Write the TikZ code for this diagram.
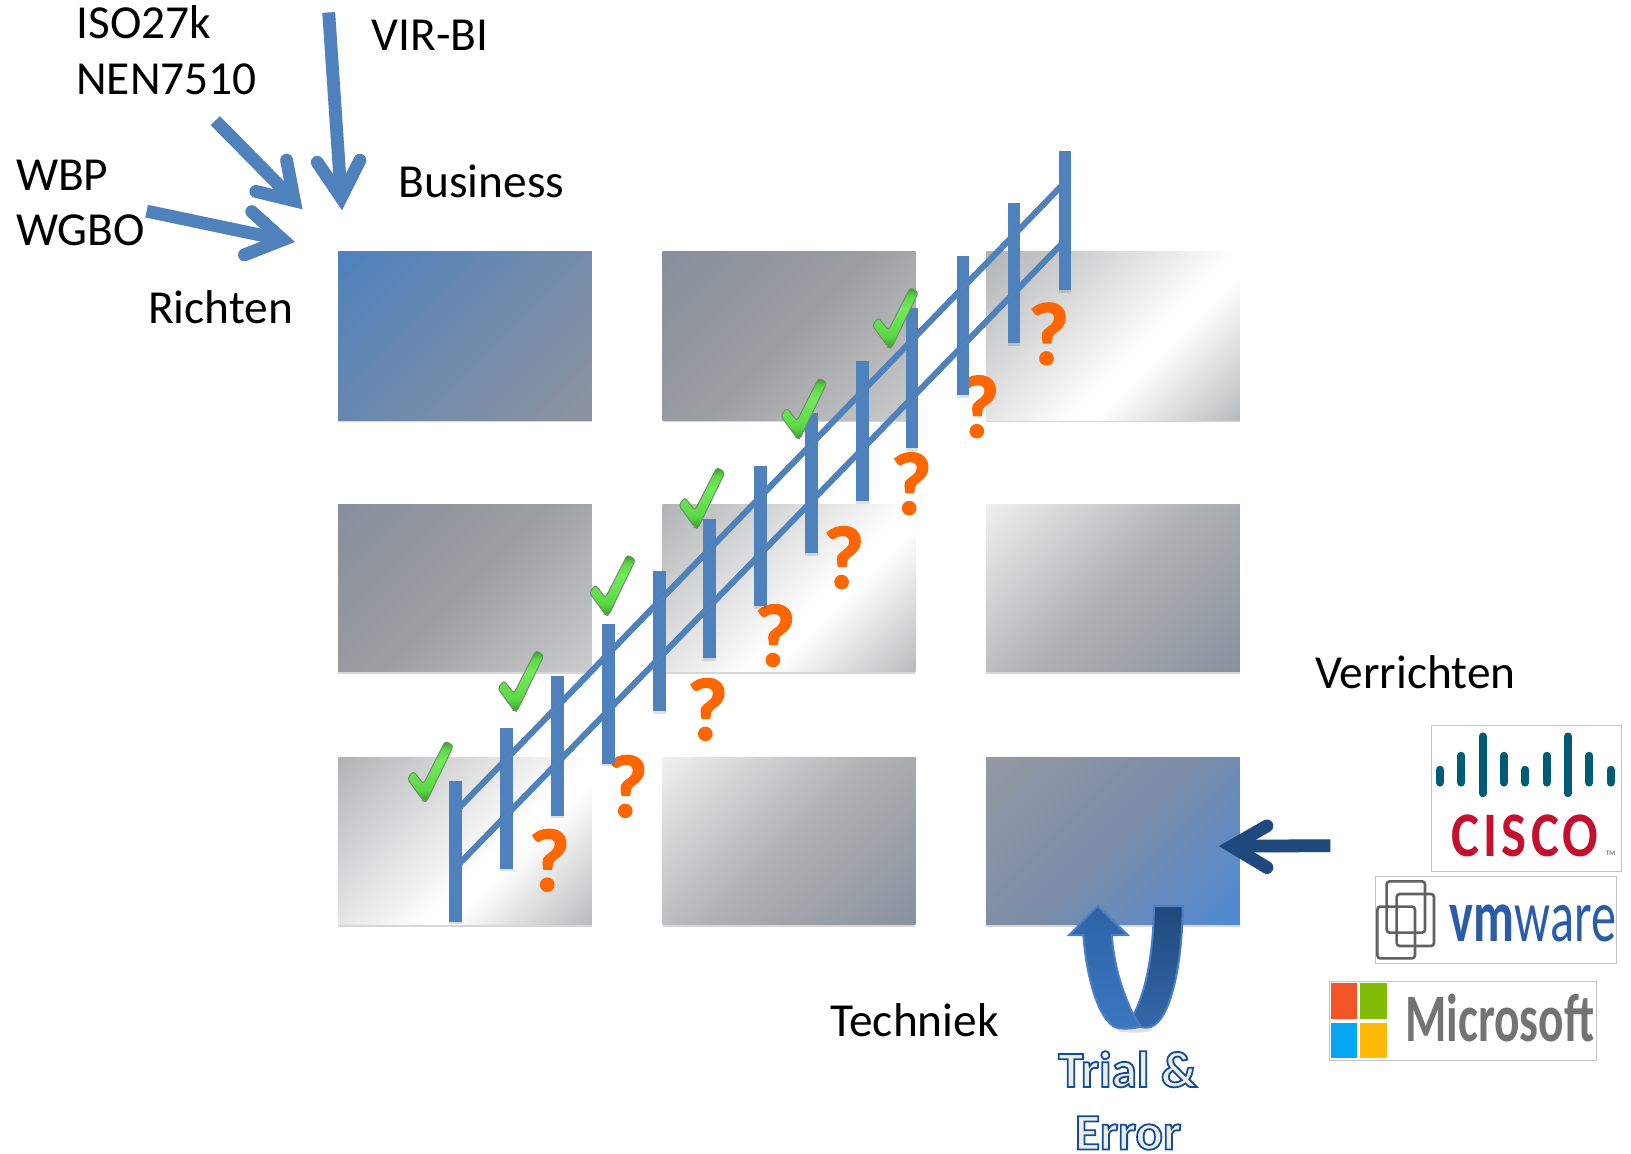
\documentclass[tikz,border=0pt]{standalone}
\usepackage{fontspec}
\usepackage{graphicx}
\setmainfont{Carlito}
\usetikzlibrary{shadows}
\definecolor{barblue}{HTML}{4F81BD}
\definecolor{darkarrow}{HTML}{1F497D}
\definecolor{qorange}{HTML}{FF6600}
\definecolor{ciscoteal}{HTML}{005B73}
\definecolor{ciscored}{HTML}{C50F2E}
\definecolor{vmblue}{HTML}{2A5CAA}
\definecolor{msgray}{HTML}{737373}
\definecolor{logoedge}{HTML}{C4C4C4}
\definecolor{c1}{HTML}{8E939D}
\definecolor{c2}{HTML}{878F9B}
\definecolor{c3}{HTML}{9C9EA2}
\definecolor{c4}{HTML}{CCCDCD}
\definecolor{c5}{HTML}{B2B3B5}
\definecolor{c6}{HTML}{B9BABB}
\definecolor{c7}{HTML}{EFEFEF}
\definecolor{c8}{HTML}{B0B1B3}
\definecolor{c9}{HTML}{88919E}
\definecolor{c10}{HTML}{959AA3}
\definecolor{c11}{HTML}{7A8CA8}
\definecolor{c12}{HTML}{4F8AD6}
\definecolor{ckdark}{HTML}{2E9E20}
\definecolor{ckmid}{HTML}{5CD845}
\definecolor{cklight}{HTML}{72EA5C}
\definecolor{ckedge}{HTML}{6F8F68}
\definecolor{ubacktop}{HTML}{1F497D}
\definecolor{ubackbot}{HTML}{3467AB}
\definecolor{ufronttop}{HTML}{2F63A5}
\definecolor{ufrontbot}{HTML}{3A77C2}
\definecolor{uedge}{HTML}{4A7FC1}
% stops: TL corner = 14.6bp, BR corner = 85.4bp at -45 degrees
\pgfdeclarehorizontalshading{gA}{100bp}{color(0bp)=(barblue); color(14.6bp)=(barblue); color(85.4bp)=(c1); color(100bp)=(c1)}
\pgfdeclarehorizontalshading{gB}{100bp}{color(0bp)=(c2); color(14.6bp)=(c2); color(50bp)=(c3); color(85.4bp)=(c4); color(100bp)=(c4)}
\pgfdeclarehorizontalshading{gC}{100bp}{color(0bp)=(c5); color(14.6bp)=(c5); color(57bp)=(white); color(61bp)=(white); color(85.4bp)=(c6); color(100bp)=(c6)}
\pgfdeclarehorizontalshading{gD}{100bp}{color(0bp)=(c7); color(14.6bp)=(c7); color(50bp)=(c8); color(85.4bp)=(c9); color(100bp)=(c9)}
\pgfdeclarehorizontalshading{gE}{100bp}{color(0bp)=(c10); color(14.6bp)=(c10); color(50bp)=(c11); color(85.4bp)=(c12); color(100bp)=(c12)}
\pgfdeclareverticalshading{gChk}{100bp}{color(0bp)=(ckdark); color(25bp)=(ckdark); color(35bp)=(ckmid); color(58bp)=(cklight); color(68bp)=(ckmid); color(75bp)=(ckdark); color(100bp)=(ckdark)}
\tikzset{
  panel/.style={shading=#1, shading angle=-45, draw=none,
    drop shadow={shadow xshift=0pt, shadow yshift=-1pt, opacity=.16, fill=black}},
  lab/.style={anchor=base west, inner sep=0pt, font=\fontsize{23.7}{28}\selectfont, text=black},
  qmark/.style={inner sep=0pt, font=\fontsize{44.5}{50}\bfseries\selectfont, text=qorange},
  bar/.style={draw=barblue, line width=6.2pt},
  barshadow/.style={draw=black, opacity=.12, line width=6.2pt},
  rail/.style={draw=barblue, line width=3pt, line cap=round},
  railshadow/.style={draw=black, opacity=.10, line width=3pt},
  shaft/.style={line width=6.4pt, line cap=butt},
  head/.style={line width=6.4pt, line cap=round, line join=miter},
  logobox/.style={draw=logoedge, line width=.5pt, fill=white},
  teallbar/.style={draw=ciscoteal, line width=3.9pt, line cap=round},
  vmsquare/.style={draw=black!62, line width=1.3pt, rounded corners=1.5pt},
  chk/.pic={
    \begin{scope}[x=.5pt,y=-.5pt]
      \path[shade, shading=gChk, draw=ckedge, line width=.5pt, rounded corners=1.5pt]
        (-1,0) -- (-17,-22) -- (-11,-30) -- (-1,-17) -- (21,-60) -- (29,-55) -- (2,1) -- cycle;
    \end{scope}
  },
  trial/.style={inner sep=0pt, anchor=base, font=\fontsize{25.5}{30}\bfseries\selectfont},
}
\newcommand{\strokedtext}[1]{\special{pdf:code q 2 Tr 0.9 w 0.06 0.30 0.61 RG 0.94 0.93 0.88 rg}#1\special{pdf:code Q}}
\newcommand{\linearrow}[5]{% colour, tail, vertex, barb, barb
  \draw[shaft, draw=black, opacity=.12, xshift=.8pt, yshift=-1.2pt] (#2) -- (#3);
  \draw[head, draw=black, opacity=.12, xshift=.8pt, yshift=-1.2pt] (#4) -- (#3) -- (#5);
  \draw[shaft, draw=#1] (#2) -- (#3);
  \draw[head, draw=#1] (#4) -- (#3) -- (#5);
}
\begin{document}
\begin{tikzpicture}[x=0.52009pt,y=-0.52009pt]
\useasboundingbox (0,0) rectangle (1568,1109.4);

% grid of panels
\path[panel=gA] (325,242) rectangle (569,404);
\path[panel=gB] (637,242) rectangle (880,404);
\path[panel=gC] (948,242) rectangle (1192,404);
\path[panel=gB] (325,485) rectangle (569,646);
\path[panel=gC] (637,485) rectangle (880,646);
\path[panel=gD] (948,485) rectangle (1192,646);
\path[panel=gC] (325,728) rectangle (569,889);
\path[panel=gD] (637,728) rectangle (880,889);
\path[panel=gE] (948,728) rectangle (1192,889);

% question marks
\foreach \i/\x/\y in {1/528/827,2/603/756,3/680/682,4/745/611,5/811/536,6/876/465,7/941/391,8/1008/321}
  \node[qmark] (q\i) at (\x,\y) {\special{pdf:code q 2 Tr 0.7 w 1 0.4 0 RG 1 0.4 0 rg}?\special{pdf:code Q}};

% ladder
\foreach \x/\a/\b in {438/751/886,487/700/835,536/650/784,585/600/734,634/549/684,682/499/633,731/448/583,780/397/532,829/347/482,877/296/431,926/246/380,975/195/330,1024/145/279}{
  \draw[barshadow, yshift=-1.3pt] (\x,\b-3) -- (\x,\b);
  \draw[bar] (\x,\a) -- (\x,\b);
}
\coordinate (ru0) at (441,777); \coordinate (ru1) at (1024,175);
\coordinate (rl0) at (439,833); \coordinate (rl1) at (1024,231);
\draw[railshadow, yshift=-1.2pt] (ru0) -- (ru1);
\draw[railshadow, yshift=-1.2pt] (rl0) -- (rl1);
\draw[rail] (ru0) -- (ru1);
\draw[rail] (rl0) -- (rl1);

% check marks
\foreach \x/\y in {408/770,495/683,583/591,669/507,767/421,855/334}
  \pic at (\x,\y) {chk};

% text
\node[lab] (iso)  at (73,37)   {ISO27k};
\node[lab] (nen)  at (73,91)   {NEN7510};
\node[lab] (vir)  at (357,49)  {VIR-BI};
\node[lab] (wbp)  at (15,183)  {WBP};
\node[lab] (wgbo) at (15,236)  {WGBO};
\node[lab] (bus)  at (383,190) {Business};
\node[lab] (ric)  at (142,311) {Richten};
\node[lab] (ver)  at (1264,662) {Verrichten};
\node[lab] (tec)  at (798,996) {Techniek};

% arrows
\coordinate (a1t) at (316,12);  \coordinate (a1v) at (328,190); \coordinate (a1b) at (305,156); \coordinate (a1c) at (346,154);
\coordinate (a2t) at (207,116); \coordinate (a2v) at (283,193); \coordinate (a2b) at (275.5,154); \coordinate (a2c) at (246,184);
\coordinate (a3t) at (141,203); \coordinate (a3v) at (272,230.5); \coordinate (a3b) at (242,203.5); \coordinate (a3c) at (235,245);
\coordinate (a4t) at (1279,813); \coordinate (a4v) at (1184,813.5); \coordinate (a4b) at (1218,794); \coordinate (a4c) at (1218,834);
\linearrow{barblue}{a1t}{a1v}{a1b}{a1c}
\linearrow{barblue}{a2t}{a2v}{a2b}{a2c}
\linearrow{barblue}{a3t}{a3v}{a3b}{a3c}
\linearrow{darkarrow}{a4t}{a4v}{a4b}{a4c}

% U-turn arrow
\begin{scope}[shift={(510pt,-440pt)}, x=.16667pt, y=-.16667pt]
  \path[fill=black, opacity=.12] (300,455) .. controls (330,460) and (380,460) .. (400,450) -- (360,435) -- (260,430) -- cycle;
  \path[top color=ubacktop, bottom color=ubackbot, draw=uedge, line width=1pt]
    (402,78) -- (488,78) .. controls (488,250) and (450,443) .. (380,443)
    .. controls (370,443) and (365,442) .. (362,440) -- (340,405)
    .. controls (375,340) and (400,230) .. (402,78) -- cycle;
  \path[top color=ufronttop, bottom color=ufrontbot, draw=uedge, line width=1pt]
    (233,78) -- (323,165) -- (275,165) .. controls (285,280) and (315,350) .. (340,405)
    -- (362,440) .. controls (345,445) and (320,447) .. (300,445)
    .. controls (240,440) and (200,300) .. (190,165) -- (148,165) -- cycle;
\end{scope}

% Trial & Error
\node[trial] (tr1) at (1084,1045) {\strokedtext{Trial \&}};
\node[trial] (tr2) at (1084.5,1105) {\strokedtext{Error}};

% logos
\begin{scope}[shift={(650pt,-350pt)}, x=.16667pt, y=-.16667pt]
  % cisco
  \path[logobox] (394,76) rectangle (965,515);
  \foreach \x/\a/\b in {420/209/248,484/167/248,548/109/280,612/167/248,676/209/248,740/167/248,804/109/280,868/167/248,932/209/248}
    \draw[teallbar] (\x,\a) -- (\x,\b);
  \node[inner sep=0pt, text=ciscored] (cisco) at (675,408) {\resizebox{73.5pt}{20.8pt}{\bfseries\addfontfeature{LetterSpace=8}CISCO}};
  \node[inner sep=0pt, text=black!45, font=\fontsize{3.5}{4}\bfseries\selectfont] (tm) at (932,460) {TM};
  % vmware
  \path[logobox] (226,529) rectangle (950,790);
  \draw[vmsquare] (260,544) rectangle (375,698);
  \draw[vmsquare] (290,582) rectangle (402,738);
  \draw[vmsquare] (232,620) rectangle (345,775);
  \node[inner sep=0pt, text=vmblue] (vmw) at (699,670) {\resizebox{83pt}{18.3pt}{{\bfseries vm}ware}};
  % microsoft
  \path[logobox] (88,844) rectangle (890,1082);
  \fill[fill={rgb,255:red,243;green,83;blue,37}] (92,850) rectangle (172,957);
  \fill[fill={rgb,255:red,129;green,188;blue,6}] (180,850) rectangle (261,957);
  \fill[fill={rgb,255:red,5;green,166;blue,240}] (92,968) rectangle (172,1075);
  \fill[fill={rgb,255:red,255;green,186;blue,8}] (180,968) rectangle (261,1075);
  \node[inner sep=0pt, anchor=south west, text=msgray] (ms) at (315,1028) {\resizebox{94.5pt}{23.8pt}{\bfseries Microsoft}};
\end{scope}
\end{tikzpicture}
\end{document}
